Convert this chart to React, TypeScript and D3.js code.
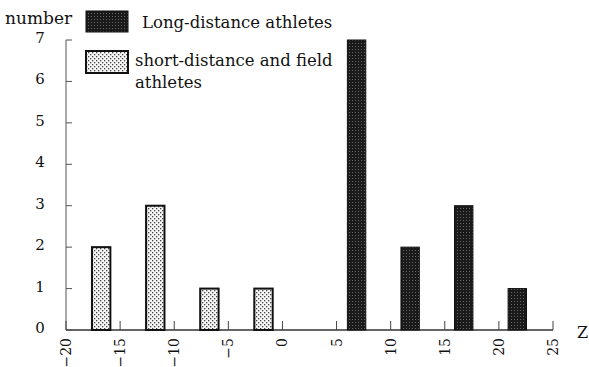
import React from "react";
import * as d3 from "d3";

const shortCenters = [-16.75, -11.75, -6.75, -1.75];
const shortCounts = [2, 3, 1, 1];
const longCenters = [6.85, 11.8, 16.75, 21.7];
const longCounts = [7, 2, 3, 1];
const barWidthUnits = 1.7;
const xTicks = [-20, -15, -10, -5, 0, 5, 10, 15, 20, 25];
const yTicks = [0, 1, 2, 3, 4, 5, 6, 7];
const legendLabels = ["Long-distance athletes", "short-distance and field", "athletes"];

const W = 589;
const H = 367;
const FONT = "'DejaVu Serif', 'Liberation Serif', serif";

export default function App() {
  const x = d3.scaleLinear().domain([-20, 25]).range([66, 553]);
  const y = d3.scaleLinear().domain([0, 7]).range([330, 40]);
  const bw = x(barWidthUnits) - x(0);
  const fmt = (v: number) => (v < 0 ? "\u2212" + Math.abs(v) : String(v));

  return (
    <div style={{ position: "absolute", left: 0, top: 0 }}>
      <svg width={W} height={H} style={{ display: "block" }}>
        <defs>
          <pattern id="dots" width="4" height="4" patternUnits="userSpaceOnUse">
            <rect width="4" height="4" fill="#f6f6f6" />
            <rect x="0" y="0" width="1.3" height="1.3" fill="#444" />
            <rect x="2" y="2" width="1.3" height="1.3" fill="#444" />
          </pattern>
          <pattern id="dark" width="3" height="3" patternUnits="userSpaceOnUse">
            <rect width="3" height="3" fill="#1a1a1a" />
            <rect x="1" y="1" width="1" height="1" fill="#666" />
          </pattern>
        </defs>
        <rect width={W} height={H} fill="#fff" />

        {/* axes */}
        <line x1={x(-20)} x2={x(25)} y1={y(0)} y2={y(0)} stroke="#333" strokeWidth={1.3} />
        <line x1={x(-20)} x2={x(-20)} y1={y(0)} y2={y(7)} stroke="#555" strokeWidth={1} />
        {xTicks.map((t) => (
          <g key={"xt" + t}>
            <line x1={x(t)} x2={x(t)} y1={y(0)} y2={y(0) - 9} stroke="#444" strokeWidth={1} />
            <text
              transform={`translate(${x(t)},${y(0) + 8}) rotate(-90)`}
              textAnchor="end"
              dominantBaseline="central"
              fontFamily={FONT}
              fontSize={14}
              fill="#111"
            >
              {fmt(t)}
            </text>
          </g>
        ))}
        {yTicks.map((t) => (
          <g key={"yt" + t}>
            <line x1={x(-20)} x2={x(-20) + 6} y1={y(t)} y2={y(t)} stroke="#555" strokeWidth={1} />
            <text
              x={40}
              y={y(t) - 2}
              textAnchor="middle"
              dominantBaseline="central"
              fontFamily={FONT}
              fontSize={15}
              fill="#111"
            >
              {t}
            </text>
          </g>
        ))}
        <text x={5} y={24} fontFamily={FONT} fontSize={17} fill="#111">number</text>
        <text x={577} y={338} fontFamily={FONT} fontSize={16} fill="#111">Z</text>

        {/* bars */}
        {shortCenters.map((c, i) => (
          <rect
            key={"s" + i}
            x={x(c) - bw / 2}
            y={y(shortCounts[i])}
            width={bw}
            height={y(0) - y(shortCounts[i])}
            fill="url(#dots)"
            stroke="#111"
            strokeWidth={2}
          />
        ))}
        {longCenters.map((c, i) => (
          <rect
            key={"l" + i}
            x={x(c) - bw / 2}
            y={y(longCounts[i])}
            width={bw}
            height={y(0) - y(longCounts[i])}
            fill="url(#dark)"
            stroke="#111"
            strokeWidth={1}
          />
        ))}

        {/* legend */}
        <rect x={86} y={11} width={42} height={21} fill="url(#dark)" stroke="#111" strokeWidth={1} />
        <text x={142} y={28} fontFamily={FONT} fontSize={16.5} fill="#111">{legendLabels[0]}</text>
        <rect x={86} y={51} width={42} height={22} fill="url(#dots)" stroke="#111" strokeWidth={2} />
        <text x={135} y={66} fontFamily={FONT} fontSize={16.5} fill="#111">{legendLabels[1]}</text>
        <text x={135} y={88} fontFamily={FONT} fontSize={16.5} fill="#111">{legendLabels[2]}</text>
      </svg>
    </div>
  );
}
